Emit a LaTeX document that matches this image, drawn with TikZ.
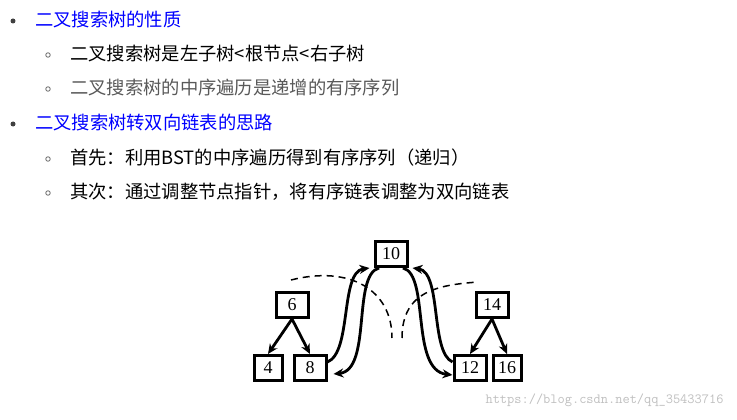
\documentclass[tikz,border=0pt]{standalone}
\usepackage{fontspec}
\setmainfont{Liberation Serif}
\newfontfamily\cjk{Noto Sans CJK SC}
\usetikzlibrary{arrows.meta}
\begin{document}
\begin{tikzpicture}[x=1pt, y=-1pt,
    item/.style={anchor=west, inner sep=0pt, font=\cjk\fontsize{18.3}{20}\selectfont},
    head/.style={item, text=blue},
    dotmark/.style={circle, fill=black!75, inner sep=0pt, minimum size=5pt},
    ringmark/.style={circle, draw=black!60, line width=0.8pt, inner sep=0pt, minimum size=4.5pt},
    key/.style={draw, line width=3pt, inner sep=0pt, minimum width=32pt, minimum height=25pt, font=\fontsize{18}{20}\selectfont},
    leaf/.style={key, minimum width=28pt},
    link/.style={-{Stealth[length=10pt, width=9pt]}, line width=2.8pt}
]
    \useasboundingbox (0,0) rectangle (737,420);
    % Text lines
    \node[dotmark] (b1) at (13,21) {};
    \node[head] (t1) at (35,20) {二叉搜索树的性质};
    \node[ringmark] (r1) at (48,55) {};
    \node[item] (t2) at (70,54) {二叉搜索树是左子树<根节点<右子树};
    \node[ringmark] (r2) at (48,89) {};
    \node[item, text=black!65] (t3) at (70,88) {二叉搜索树的中序遍历是递增的有序序列};
    \node[dotmark] (b2) at (13,124) {};
    \node[head] (t4) at (35,123) {二叉搜索树转双向链表的思路};
    \node[ringmark] (r3) at (48,159) {};
    \node[item] (t5) at (70,158) {首先：利用BST的中序遍历得到有序序列（递归）};
    \node[ringmark] (r4) at (48,193) {};
    \node[item] (t6) at (70,192) {其次：通过调整节点指针，将有序链表调整为双向链表};

    % Tree
    \node[key] (n10) at (391,254) {10};
    \node[key] (n6) at (292,305) {6};
    \node[key] (n14) at (492,305) {14};
    \node[leaf] (n4) at (268,368) {4};
    \node[key] (n8) at (310,368) {8};
    \node[key] (n12) at (470,368) {12};
    \node[leaf] (n16) at (507,368) {16};
    \draw[link] (n6.south) -- (n4.north);
    \draw[link] (n6.south) -- (n8.north);
    \draw[link] (n14.south) -- (n12.north);
    \draw[link] (n14.south) -- (n16.north);

    % Links
    \draw[link] ([yshift=6pt]n8.east) .. controls (352,352) and (340,272) .. ([xshift=-4pt]n10.south west);
    \draw[link] ([xshift=-12pt]n10.south) .. controls (352,275) and (372,370) .. ([xshift=6pt, yshift=-6pt]n8.east);
    \draw[link] ([yshift=6pt]n12.west) .. controls (430,352) and (442,272) .. ([xshift=4pt]n10.south east);
    \draw[link] ([xshift=12pt]n10.south) .. controls (430,275) and (410,370) .. ([yshift=-7pt]n12.west);

    % Dashed arcs
    \coordinate (dl) at (291,280);
    \coordinate (dle) at (392,338);
    \coordinate (dr) at (478,282);
    \coordinate (dre) at (402,338);
    \draw[line width=1.5pt, dash pattern=on 7pt off 5pt] (dl) .. controls (350,265) and (392,290) .. (dle);
    \draw[line width=1.5pt, dash pattern=on 7pt off 5pt] (dre) .. controls (402,290) and (440,285) .. (dr);

    % Watermark
    \node[anchor=east, text=black!25, font=\fontsize{14}{16}\selectfont\ttfamily] (wm) at (727,400) {https://blog.csdn.net/qq\_35433716};
\end{tikzpicture}
\end{document}
